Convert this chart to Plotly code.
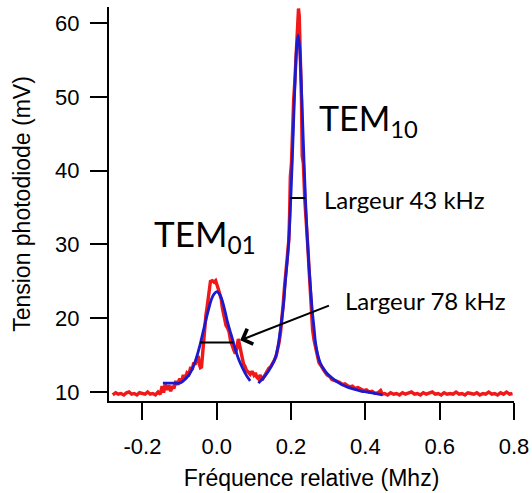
import plotly.graph_objects as go

# ---------------- data ----------------
# measured photodiode signal (red)
red_x = [-0.280, -0.272, -0.265, -0.258, -0.250, -0.243, -0.236, -0.229, -0.222, -0.215,
         -0.208, -0.200, -0.193, -0.186, -0.179, -0.172, -0.165, -0.158, -0.152,
         -0.147, -0.143, -0.139, -0.134, -0.129, -0.124, -0.120, -0.115, -0.110, -0.105,
         -0.100, -0.095, -0.090, -0.085, -0.080, -0.075, -0.070, -0.066, -0.062, -0.058,
         -0.054, -0.050, -0.047, -0.044, -0.041, -0.038, -0.035, -0.032, -0.029, -0.026,
         -0.023, -0.020, -0.017, -0.012, -0.007, -0.003, 0.001, 0.004, 0.008, 0.012,
         0.015, 0.018, 0.021, 0.025, 0.029, 0.033, 0.037, 0.041, 0.045, 0.050,
         0.054, 0.058, 0.061, 0.065, 0.069, 0.072, 0.076, 0.080, 0.085, 0.090,
         0.095, 0.100, 0.104, 0.108, 0.112, 0.117, 0.122, 0.126, 0.131, 0.136,
         0.140, 0.145, 0.150, 0.155, 0.160, 0.164, 0.168, 0.172, 0.176, 0.179,
         0.182, 0.185, 0.188, 0.191, 0.194, 0.196, 0.198, 0.201, 0.204, 0.207,
         0.210, 0.213, 0.216, 0.218, 0.220, 0.222, 0.224, 0.226, 0.228, 0.230,
         0.233, 0.237, 0.240, 0.243, 0.246, 0.248, 0.250, 0.252, 0.255, 0.258,
         0.262, 0.266, 0.270, 0.275, 0.280, 0.284, 0.290, 0.297, 0.304, 0.310,
         0.317, 0.324, 0.331, 0.338, 0.345, 0.351, 0.358, 0.365, 0.372, 0.380,
         0.387, 0.395, 0.403, 0.410, 0.418, 0.426, 0.434, 0.441, 0.446,
         0.452, 0.460, 0.468, 0.476, 0.484, 0.492, 0.500, 0.508, 0.516, 0.524,
         0.532, 0.540, 0.548, 0.556, 0.564, 0.572, 0.580, 0.588, 0.596, 0.604,
         0.612, 0.620, 0.628, 0.636, 0.644, 0.652, 0.660, 0.668, 0.676, 0.684,
         0.692, 0.700, 0.708, 0.716, 0.724, 0.732, 0.740, 0.748, 0.756, 0.764,
         0.772, 0.780, 0.788, 0.796]
red_y = [9.6, 9.9, 9.7, 9.8, 9.6, 9.9, 10.0, 9.7, 9.8, 9.6,
         9.9, 9.8, 9.7, 10.0, 9.7, 9.8, 9.6, 10.0, 9.7,
         10.8, 9.9, 11.0, 10.3, 10.9, 10.1, 10.8, 10.5, 11.5, 11.0,
         11.8, 11.4, 12.3, 11.9, 12.6, 12.4, 13.4, 13.0, 14.0, 13.7,
         14.6, 14.9, 13.8, 13.3, 13.4, 15.5, 17.5, 18.8, 20.5, 21.5,
         22.8, 24.2, 25.0, 25.1, 24.9, 25.1, 24.6, 24.0, 23.3, 22.6,
         21.4, 20.8, 19.9, 19.0, 18.7, 18.2, 17.0, 16.2, 15.8, 15.2,
         15.9, 17.2, 16.5, 15.8, 14.7, 13.8, 13.5, 12.9, 12.7, 12.4,
         12.8, 12.3, 12.6, 12.0, 11.8, 12.3, 11.6, 12.0, 12.5, 12.9,
         13.2, 13.4, 13.8, 14.3, 14.9, 15.8, 16.8, 18.2, 19.9, 22.0,
         24.0, 25.5, 27.5, 29.5, 30.6, 34.0, 39.2, 41.0, 46.0, 49.6,
         52.0, 55.0, 57.5, 60.5, 62.0, 61.0, 57.5, 52.5, 49.6, 42.0,
         41.0, 36.0, 34.0, 31.5, 29.0, 27.0, 25.0, 22.4, 20.0, 18.4,
         17.0, 16.2, 15.4, 14.0, 13.6, 13.2, 12.8, 12.3, 12.1, 11.7,
         11.6, 11.4, 11.3, 11.0, 11.1, 10.9, 10.7, 10.8, 10.5, 10.6,
         10.4, 10.2, 10.3, 10.0, 10.1, 9.8, 9.9, 10.2, 9.7,
         9.8, 9.6, 9.9, 9.7, 9.8, 9.6, 9.9, 9.7, 9.8, 10.0,
         9.7, 9.8, 9.6, 9.9, 9.7, 9.8, 10.0, 9.7, 9.8, 9.6,
         9.9, 9.7, 9.8, 9.7, 10.0, 9.7, 9.8, 9.6, 9.9, 9.8,
         9.7, 9.9, 9.6, 9.8, 9.7, 10.0, 9.7, 9.8, 9.6, 9.9,
         9.7, 10.0, 9.7, 9.8]

# fitted curve of the TEM01 peak (blue)
fit01_x = [-0.145, -0.130, -0.115, -0.100, -0.090, -0.080, -0.070, -0.062, -0.055, -0.045,
           -0.038, -0.030, -0.022, -0.014, -0.007, 0.000, 0.007, 0.014, 0.022, 0.030,
           0.038, 0.045, 0.053, 0.060, 0.068, 0.076, 0.083, 0.090]
fit01_y = [11.2, 11.2, 11.2, 11.2, 11.5, 12.0, 12.7, 13.6, 14.6, 16.4,
           17.9, 19.6, 21.2, 22.6, 23.3, 23.6, 23.3, 22.5, 21.0, 19.3,
           17.9, 16.7, 15.3, 14.3, 13.4, 12.6, 12.0, 11.5]

# fitted curve of the TEM10 peak (blue)
fit10_x = [0.112, 0.125, 0.135, 0.147, 0.158, 0.165, 0.171, 0.176, 0.180, 0.185,
           0.191, 0.195, 0.199, 0.203, 0.207, 0.211, 0.215, 0.219, 0.223, 0.227,
           0.231, 0.235, 0.239, 0.243, 0.247, 0.252, 0.257, 0.262, 0.266, 0.272,
           0.279, 0.288, 0.297, 0.315, 0.333, 0.350, 0.369, 0.390, 0.405, 0.425, 0.446]
fit10_y = [11.2, 11.9, 12.5, 13.5, 14.7, 16.2, 18.4, 20.3, 22.0, 25.2,
           28.5, 31.5, 35.9, 41.1, 46.9, 52.5, 56.8, 58.4, 56.8, 52.5,
           46.9, 41.1, 35.9, 31.5, 28.0, 24.4, 21.1, 18.6, 16.6, 15.0,
           13.9, 13.1, 12.5, 11.7, 11.1, 10.7, 10.4, 10.1, 10.0, 9.8, 9.6]

# width markers (half-height segments)
width01 = {"x0": -0.045, "x1": 0.045, "y": 16.7}
width10 = {"x0": 0.198, "x1": 0.238, "y": 36.3}

x_ticks = [-0.2, 0.0, 0.2, 0.4, 0.6, 0.8]
x_ticklabels = ["-0.2", "0.0", "0.2", "0.4", "0.6", "0.8"]
y_ticks = [10, 20, 30, 40, 50, 60]

# ---------------- figure ----------------
fig = go.Figure()
fig.add_trace(go.Scatter(x=red_x, y=red_y, mode="lines",
                         line=dict(color="#f01818", width=3.4), showlegend=False))
fig.add_trace(go.Scatter(x=fit01_x, y=fit01_y, mode="lines",
                         line=dict(color="#1a1ad0", width=2.8, shape="spline"), showlegend=False))
fig.add_trace(go.Scatter(x=fit10_x, y=fit10_y, mode="lines",
                         line=dict(color="#1a1ad0", width=2.8, shape="spline"), showlegend=False))

for w in (width01, width10):
    fig.add_shape(type="line", xref="x", yref="y", x0=w["x0"], x1=w["x1"], y0=w["y"], y1=w["y"],
                  line=dict(color="black", width=2))

ann_font = "Lato, Carlito, Calibri, sans-serif"
fig.add_annotation(x=-0.175, y=31.2, xref="x", yref="y", xanchor="left", yanchor="middle",
                   text="TEM<sub>01</sub>", showarrow=False,
                   font=dict(family=ann_font, size=35, color="black"))
fig.add_annotation(x=0.270, y=46.9, xref="x", yref="y", xanchor="left", yanchor="middle",
                   text="TEM<sub>10</sub>", showarrow=False,
                   font=dict(family=ann_font, size=34, color="black"))
fig.add_annotation(x=0.284, y=36.1, xref="x", yref="y", xanchor="left", yanchor="middle",
                   text="Largeur 43 kHz", showarrow=False,
                   font=dict(family=ann_font, size=24, color="black"))
fig.add_annotation(x=0.341, y=22.4, xref="x", yref="y", xanchor="left", yanchor="middle",
                   text="Largeur 78 kHz", showarrow=False,
                   font=dict(family=ann_font, size=24, color="black"))
# arrow pointing to the TEM01 width
fig.add_annotation(x=0.063, y=17.0, ax=0.306, ay=21.8, xref="x", yref="y", axref="x", ayref="y",
                   text="", showarrow=True, arrowhead=4, arrowsize=1.6, arrowwidth=2,
                   arrowcolor="black", standoff=0)

axis_font = "Liberation Sans, Arial, sans-serif"
fig.update_layout(
    width=532, height=493,
    margin=dict(l=109, r=18, t=7, b=92, autoexpand=False),
    paper_bgcolor="white", plot_bgcolor="white",
    font=dict(family=axis_font, color="black"),
    xaxis=dict(range=[-0.29, 0.80], tickvals=x_ticks, ticktext=x_ticklabels,
               showgrid=False, zeroline=False, showline=True, linecolor="black", linewidth=2,
               ticks="outside", ticklen=17, tickwidth=2, tickcolor="black",
               tickfont=dict(size=22), ticklabelstandoff=8, automargin=False,
               title=dict(text="Fréquence relative (Mhz)", font=dict(size=23), standoff=11)),
    yaxis=dict(range=[8.78, 62.2], tickvals=y_ticks,
               showgrid=False, zeroline=False, showline=True, linecolor="black", linewidth=2,
               ticks="outside", ticklen=17, tickwidth=2, tickcolor="black",
               tickfont=dict(size=22), ticklabelstandoff=6, automargin=False,
               title=dict(text="Tension photodiode (mV)", font=dict(size=23), standoff=18)),
)

fig.write_html("out.html", config={"displayModeBar": False},
               post_script="document.body.style.margin='0';")
